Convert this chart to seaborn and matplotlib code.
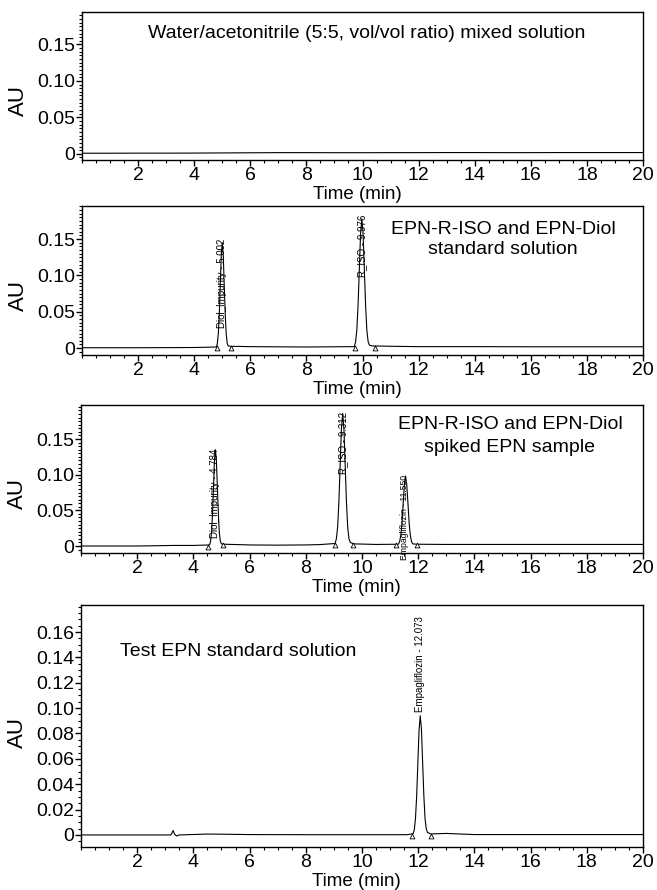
import numpy as np
import pandas as pd
import seaborn as sns
import matplotlib
matplotlib.use("Agg")
import matplotlib.pyplot as plt
from matplotlib.ticker import MultipleLocator, FuncFormatter

# ---------------- data ----------------
blank_t = [0, 1, 2, 3, 4, 5, 6, 7, 8, 9, 10, 11, 12, 13, 14, 15, 16, 17, 18, 19, 20]
blank_au = [0.0008, 0.0008, 0.0009, 0.0009, 0.0010, 0.0012, 0.0014, 0.0016, 0.0016, 0.0015,
            0.0015, 0.0016, 0.0016, 0.0017, 0.0017, 0.0016, 0.0016, 0.0017, 0.0017, 0.0017, 0.0017]

std_t = [0, 2, 4, 4.79, 4.825, 4.86, 4.895, 4.93, 4.965, 5.00, 5.035, 5.07, 5.105, 5.14, 5.175,
         5.21, 5.3, 6, 8, 9.706, 9.751, 9.796, 9.841, 9.886, 9.931, 9.976, 10.021, 10.066,
         10.111, 10.156, 10.201, 10.246, 10.35, 11, 12, 14, 16, 18, 20]
std_au = [0.0005, 0.0005, 0.0008, 0.0015, 0.0064, 0.020, 0.047, 0.088, 0.128, 0.145, 0.128,
          0.088, 0.047, 0.020, 0.007, 0.003, 0.0025, 0.002, 0.0015, 0.002, 0.008, 0.024, 0.058,
          0.108, 0.157, 0.178, 0.157, 0.108, 0.058, 0.024, 0.009, 0.004, 0.003, 0.0025, 0.002,
          0.002, 0.0018, 0.0018, 0.0018]
std_marks_t = [4.83, 5.31, 9.73, 10.46]
std_marks_au = [-0.0005, 0.0008, 0.0008, 0.0008]
std_labels = ["Diol_Impurity - 5.002", "R_ISO - 9.976"]
std_label_t = [5.002, 9.976]
std_label_au = [0.150, 0.184]

spk_t = [0, 2, 3.3, 4.0, 4.574, 4.609, 4.644, 4.679, 4.714, 4.749, 4.784, 4.819, 4.854, 4.889,
         4.924, 4.959, 4.994, 5.1, 6, 7, 8, 8.5, 9.042, 9.087, 9.132, 9.177, 9.222, 9.267, 9.312,
         9.357, 9.402, 9.447, 9.492, 9.537, 9.582, 9.7, 10.5, 11.295, 11.338, 11.38, 11.423,
         11.465, 11.508, 11.55, 11.593, 11.635, 11.678, 11.72, 11.763, 11.805, 11.95, 13, 14,
         16, 18, 20]
spk_au = [0.0, 0.0, 0.0008, 0.0008, 0.0015, 0.006, 0.018, 0.044, 0.082, 0.119, 0.135, 0.119,
          0.082, 0.044, 0.018, 0.007, 0.003, 0.0025, 0.0015, 0.0012, 0.0015, 0.002, 0.0035, 0.010,
          0.026, 0.061, 0.113, 0.164, 0.186, 0.164, 0.113, 0.061, 0.026, 0.010, 0.005, 0.003,
          0.0022, 0.0025, 0.006, 0.015, 0.032, 0.060, 0.086, 0.098, 0.086, 0.060, 0.032, 0.015,
          0.006, 0.003, 0.0025, 0.0022, 0.0022, 0.0022, 0.0022, 0.0022]
spk_marks_t = [4.51, 5.05, 9.04, 9.67, 11.21, 11.95]
spk_marks_au = [-0.0008, 0.0008, 0.0008, 0.0008, 0.0008, 0.0008]
spk_labels = ["Diol_Impurity - 4.784", "R_ISO - 9.312", "Empagliflozin - 11.550"]
spk_label_t = [4.784, 9.312, 11.50]
spk_label_au = [0.137, 0.188, 0.100]

tst_t = [0, 2, 3.2, 3.28, 3.33, 3.4, 3.5, 4.5, 5, 6, 8, 10, 11.6, 11.818, 11.861, 11.903, 11.946,
         11.988, 12.031, 12.073, 12.116, 12.158, 12.201, 12.243, 12.286, 12.328, 12.45, 13, 14,
         16, 18, 20]
tst_au = [0.0, 0.0, 0.0, 0.0035, 0.0005, -0.0008, 0.0, 0.0007, 0.0006, 0.0003, 0.0002, 0.0002,
          0.0002, 0.001, 0.004, 0.013, 0.031, 0.057, 0.083, 0.094, 0.083, 0.057, 0.031, 0.013,
          0.005, 0.002, 0.0008, 0.0012, 0.0003, 0.0003, 0.0003, 0.0003]
tst_marks_t = [11.79, 12.45]
tst_marks_au = [-0.0005, -0.0005]
tst_labels = ["Empagliflozin - 12.073"]
tst_label_t = [12.073]
tst_label_au = [0.097]

x_ticks = [2, 4, 6, 8, 10, 12, 14, 16, 18, 20]
y_ticks_small = [0, 0.05, 0.10, 0.15]
y_ticks_big = [0, 0.02, 0.04, 0.06, 0.08, 0.10, 0.12, 0.14, 0.16]

# ---------------- styling ----------------
sns.set_theme(style="ticks")
plt.rcParams["font.family"] = ["Liberation Sans", "DejaVu Sans"]
plt.rcParams["axes.linewidth"] = 1.0

W, H = 657, 890
fig = plt.figure(figsize=(W / 100, H / 100), dpi=100)


def box(left, top, right, bottom):
    return [left / W, 1 - bottom / H, (right - left) / W, (bottom - top) / H]


axes = [
    fig.add_axes(box(82, 12, 643, 160)),
    fig.add_axes(box(82, 206, 643, 355)),
    fig.add_axes(box(81, 405, 643, 553)),
    fig.add_axes(box(81, 605, 643, 847)),
]
axes_h = [148, 149, 148, 242]


def fmt(v, pos):
    if abs(v) < 1e-9:
        return "0"
    return f"{v:.2f}"


def style(ax, yticks, ylim, minor_y, ylab_y, h_px):
    ax.set_xlim(0, 20)
    ax.set_ylim(*ylim)
    ax.set_xticks(x_ticks)
    ax.xaxis.set_minor_locator(MultipleLocator(0.5))
    ax.set_yticks(yticks)
    ax.yaxis.set_minor_locator(MultipleLocator(minor_y))
    ax.yaxis.set_major_formatter(FuncFormatter(fmt))
    ax.tick_params(axis="both", which="major", direction="out", length=4, width=1.0,
                   labelsize=14, pad=1, color="black", labelcolor="black")
    ax.tick_params(axis="both", which="minor", direction="out", length=2.5, width=0.8,
                   color="black")
    for s in ax.spines.values():
        s.set_color("black")
        s.set_linewidth(1.0)
    ax.set_xlabel("Time (min)", fontsize=13.5, color="black")
    ax.xaxis.set_label_coords(0.49, -26.0 / h_px)
    ax.xaxis.label.set_va("top")
    ax.set_ylabel("AU", fontsize=16, color="black")
    ax.yaxis.set_label_coords(-0.095, ylab_y)


def trace(ax, t, au):
    df = pd.DataFrame({"t": t, "au": au})
    sns.lineplot(data=df, x="t", y="au", ax=ax, color="black", linewidth=0.8,
                 estimator=None, sort=False)


def marks(ax, t, au):
    df = pd.DataFrame({"t": t, "au": au})
    sns.scatterplot(data=df, x="t", y="au", ax=ax, marker="^", s=12,
                    facecolor="white", edgecolor="black", linewidth=0.6, zorder=3)


def labels(ax, texts, tt, yy, va, sizes):
    for txt, x, y, fs in zip(texts, tt, yy, sizes):
        ax.text(x, y, txt, rotation=90, ha="center", va=va, fontsize=fs, color="black")


# Panel 1
ax = axes[0]
trace(ax, blank_t, blank_au)
style(ax, y_ticks_small, (-0.0085, 0.1945), 0.005, 0.40, axes_h[0])

# Panel 2
ax = axes[1]
trace(ax, std_t, std_au)
marks(ax, std_marks_t, std_marks_au)
labels(ax, std_labels, std_label_t, std_label_au, "top", [7, 7])
style(ax, y_ticks_small, (-0.0095, 0.1955), 0.005, 0.40, axes_h[1])

# Panel 3
ax = axes[2]
trace(ax, spk_t, spk_au)
marks(ax, spk_marks_t, spk_marks_au)
labels(ax, spk_labels, spk_label_t, spk_label_au, "top", [7, 7, 6.2])
style(ax, y_ticks_small, (-0.0098, 0.1977), 0.005, 0.40, axes_h[2])

# Panel 4
ax = axes[3]
trace(ax, tst_t, tst_au)
marks(ax, tst_marks_t, tst_marks_au)
labels(ax, tst_labels, tst_label_t, tst_label_au, "bottom", [7])
style(ax, y_ticks_big, (-0.0095, 0.1813), 0.005, 0.475, axes_h[3])


# texts placed in figure pixel coordinates (converted to figure fraction)
def ftext(x, y, s, **kw):
    fig.text(x / W, 1 - y / H, s, fontsize=14, color="black", va="center", **kw)


ftext(367, 33, "Water/acetonitrile (5:5, vol/vol ratio) mixed solution", ha="center")
ftext(503, 229, "EPN-R-ISO and EPN-Diol", ha="center")
ftext(503, 250, "standard solution", ha="center")
ftext(510, 425, "EPN-R-ISO and EPN-Diol", ha="center")
ftext(510, 447, "spiked EPN sample", ha="center")
ftext(120, 652, "Test EPN standard solution", ha="left")

fig.savefig("out.png", dpi=100)
